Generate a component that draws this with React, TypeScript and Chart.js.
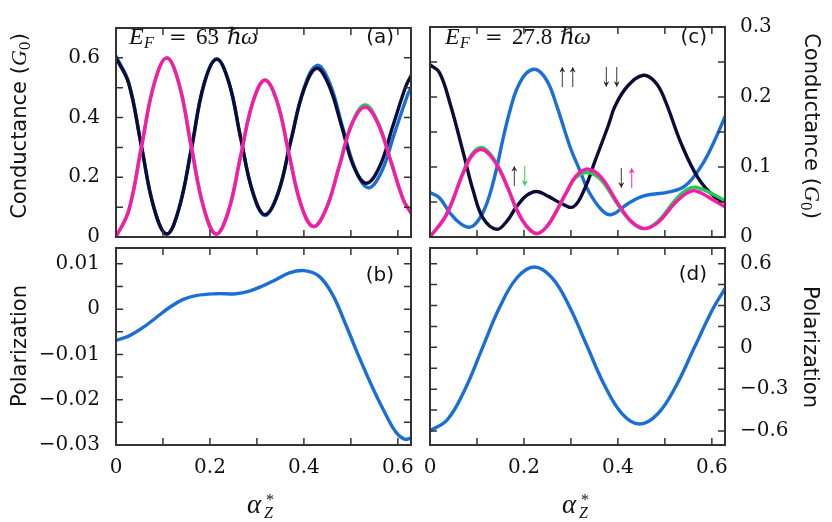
import React, { useEffect, useRef } from 'react';
import { Chart, registerables } from 'chart.js';

Chart.register(...registerables);

// ---------------- axes ----------------
const X_MIN = 0;
const X_MAX = 0.628;
const xTickLabels = [0, 0.2, 0.4, 0.6];
const xTickMarks = [0.1, 0.2, 0.3, 0.4, 0.5, 0.6];

const aYLabels = [0, 0.2, 0.4, 0.6];
const aYMarks = [0.1, 0.2, 0.3, 0.4, 0.5, 0.6];
const cYLabels = [0, 0.1, 0.2, 0.3];
const cYMarks = [0.05, 0.1, 0.15, 0.2, 0.25];
const bYLabels = [-0.03, -0.02, -0.01, 0, 0.01];
const bYMarks = [-0.025, -0.02, -0.015, -0.01, -0.005, 0, 0.005, 0.01];
const dYLabels = [-0.6, -0.3, 0, 0.3, 0.6];
const dYMarks = [-0.6, -0.45, -0.3, -0.15, 0, 0.15, 0.3, 0.45, 0.6];

// ---------------- (a) E_F = 63 ħω, conductance ----------------
const aPinkX = [0, 0.027, 0.054, 0.081, 0.108, 0.134, 0.160, 0.187, 0.213, 0.239, 0.265, 0.291, 0.317, 0.343, 0.368, 0.394, 0.420, 0.447, 0.475, 0.502, 0.530, 0.557, 0.585, 0.612, 0.628];
const aPinkY = [0.0, 0.088, 0.300, 0.512, 0.600, 0.514, 0.305, 0.096, 0.010, 0.085, 0.268, 0.450, 0.525, 0.453, 0.280, 0.107, 0.035, 0.093, 0.235, 0.377, 0.435, 0.382, 0.253, 0.123, 0.081];
const aGreenY = [0.0, 0.088, 0.300, 0.512, 0.600, 0.514, 0.305, 0.096, 0.010, 0.085, 0.268, 0.450, 0.526, 0.453, 0.280, 0.107, 0.035, 0.093, 0.236, 0.380, 0.442, 0.387, 0.256, 0.124, 0.082];
const aDarkX = [0, 0.027, 0.054, 0.081, 0.108, 0.134, 0.161, 0.187, 0.214, 0.240, 0.265, 0.291, 0.317, 0.345, 0.372, 0.400, 0.427, 0.453, 0.480, 0.506, 0.533, 0.561, 0.589, 0.617, 0.628];
const aDarkY = [0.600, 0.514, 0.305, 0.096, 0.010, 0.095, 0.300, 0.510, 0.595, 0.519, 0.335, 0.151, 0.075, 0.147, 0.320, 0.493, 0.565, 0.509, 0.373, 0.236, 0.180, 0.235, 0.370, 0.505, 0.540];
const aBlueX = [0, 0.027, 0.054, 0.081, 0.108, 0.134, 0.161, 0.187, 0.214, 0.240, 0.265, 0.291, 0.317, 0.345, 0.372, 0.400, 0.428, 0.455, 0.482, 0.510, 0.537, 0.565, 0.593, 0.621, 0.628];
const aBlueY = [0.605, 0.518, 0.305, 0.096, 0.010, 0.095, 0.300, 0.510, 0.597, 0.520, 0.335, 0.151, 0.072, 0.146, 0.322, 0.498, 0.575, 0.515, 0.370, 0.225, 0.165, 0.218, 0.348, 0.477, 0.500];

// ---------------- (c) E_F = 27.8 ħω, conductance ----------------
const cDarkX = [0, 0.02, 0.043, 0.071, 0.092, 0.113, 0.142, 0.163, 0.184, 0.205, 0.227, 0.252, 0.277, 0.305, 0.33, 0.351, 0.38, 0.394, 0.42, 0.454, 0.48, 0.5, 0.535, 0.571, 0.606, 0.628];
const cDarkY = [0.246, 0.235, 0.19, 0.12, 0.066, 0.027, 0.011, 0.022, 0.043, 0.059, 0.065, 0.058, 0.049, 0.043, 0.07, 0.108, 0.16, 0.187, 0.215, 0.231, 0.221, 0.196, 0.133, 0.084, 0.057, 0.05];
const cBlueX = [0, 0.02, 0.043, 0.065, 0.085, 0.103, 0.121, 0.139, 0.156, 0.17, 0.184, 0.205, 0.227, 0.25, 0.27, 0.298, 0.319, 0.337, 0.365, 0.386, 0.422, 0.457, 0.507, 0.543, 0.578, 0.606, 0.628];
const cBlueY = [0.0635, 0.056, 0.034, 0.019, 0.014, 0.024, 0.048, 0.09, 0.142, 0.18, 0.21, 0.234, 0.239, 0.222, 0.187, 0.129, 0.095, 0.066, 0.039, 0.032, 0.048, 0.059, 0.064, 0.073, 0.102, 0.138, 0.172];
const cPinkX = [0, 0.035, 0.071, 0.09, 0.11, 0.13, 0.149, 0.167, 0.184, 0.205, 0.228, 0.25, 0.27, 0.292, 0.312, 0.337, 0.365, 0.4, 0.429, 0.456, 0.486, 0.521, 0.545, 0.565, 0.6, 0.628];
const cPinkY = [0, 0.032, 0.092, 0.117, 0.125, 0.115, 0.095, 0.068, 0.04, 0.016, 0.005, 0.016, 0.038, 0.066, 0.088, 0.097, 0.085, 0.048, 0.022, 0.012, 0.021, 0.048, 0.062, 0.066, 0.054, 0.043];
const cGreenY = [0, 0.032, 0.093, 0.119, 0.128, 0.117, 0.096, 0.068, 0.04, 0.016, 0.005, 0.016, 0.038, 0.065, 0.086, 0.092, 0.081, 0.046, 0.021, 0.012, 0.023, 0.052, 0.067, 0.071, 0.062, 0.052];

// ---------------- (b) polarization, E_F = 63 ----------------
const bPolX = [0, 0.028, 0.057, 0.085, 0.113, 0.142, 0.17, 0.213, 0.255, 0.284, 0.312, 0.34, 0.369, 0.4, 0.432, 0.461, 0.489, 0.518, 0.546, 0.574, 0.596, 0.614, 0.628];
const bPolY = [-0.0069, -0.0059, -0.0041, -0.0019, 0.0003, 0.0021, 0.003, 0.0034, 0.0034, 0.004, 0.0051, 0.0065, 0.008, 0.0085, 0.0073, 0.0032, -0.0034, -0.0107, -0.0173, -0.0232, -0.0272, -0.0287, -0.0285];

// ---------------- (d) polarization, E_F = 27.8 ----------------
const dPolX = [0, 0.0369, 0.0739, 0.1108, 0.1477, 0.1847, 0.2216, 0.259, 0.2964, 0.3338, 0.3712, 0.4086, 0.446, 0.485, 0.524, 0.563, 0.602, 0.628];
const dPolY = [-0.598, -0.519, -0.305, -0.011, 0.283, 0.497, 0.576, 0.501, 0.295, 0.013, -0.27, -0.475, -0.55, -0.476, -0.275, 0.0, 0.275, 0.42];

// ---------------- styles ----------------
const PINK = '#ff17ad';
const GREEN = '#22cc50';
const DARK = '#0c0c38';
const BLUE = '#1a6fd6';
const FRAME = '#333333';
const TEXT = '#111111';
const W = 832;
const H = 522;
const TICK = 7;
const Y_AXIS_W = 100;
const X_AXIS_H = 50;

const SANS = '"DejaVu Sans"';
const SERIF = '"DejaVu Serif"';
const TSERIF = '"Liberation Serif", "DejaVu Serif"';

type Run = { t: string; f: string; c?: string; at?: number; dy?: number };
type TextItem = { x: number; y: number; runs: Run[]; align?: 'left' | 'center' | 'right'; rot?: number; sx?: number };
type Series = { xs: number[]; ys: number[]; color: string };
type PanelSpec = {
  id: string;
  area: { L: number; T: number; R: number; B: number };
  yMin: number;
  yMax: number;
  yLabels: number[];
  yMarks: number[];
  ySide: 'left' | 'right';
  showX: boolean;
  series: Series[];
  texts: TextItem[];
};

const fmt = (v: number) => {
  const r = Math.round(v * 1000) / 1000;
  return (r < 0 ? '\u2212' : '') + String(Math.abs(r));
};

const condLabel = (x: number, y: number, rot: number): TextItem => ({
  x, y, rot, align: 'center',
  runs: [
    { t: 'Conductance (', f: `21px ${SANS}` },
    { t: 'G', f: `italic 22px ${TSERIF}` },
    { t: '0', f: `14px ${SERIF}`, dy: 4 },
    { t: ')', f: `21px ${SANS}` },
  ],
});
const polLabel = (x: number, y: number, rot: number): TextItem => ({
  x, y, rot, align: 'center', runs: [{ t: 'Polarization', f: `21px ${SANS}` }],
});
const panelTag = (x: number, y: number, t: string): TextItem => ({
  x, y, align: 'right', runs: [{ t, f: `20px ${SANS}` }],
});
const alphaLabel = (x: number, y: number): TextItem => ({
  x, y, runs: [
    { t: '\u03b1', f: `italic 27px ${TSERIF}`, at: 0 },
    { t: '*', f: `16px ${TSERIF}`, at: 19, dy: -8 },
    { t: 'Z', f: `italic 16px ${TSERIF}`, at: 17, dy: 5 },
  ],
});
const arrowFont = `34px ${TSERIF}`;
const arrows = (x: number, y: number, c1: string, c2: string, t: string): TextItem => ({
  x, y, sx: 0.62, runs: [{ t: t[0], f: arrowFont, c: c1 }, { t: t[1], f: arrowFont, c: c2 }],
});
const efLabel = (x: number, value: string, gap: number): TextItem => ({
  x, y: 44, runs: [
    { t: 'E', f: `italic 24px ${TSERIF}`, at: 0 },
    { t: 'F', f: `italic 16px ${TSERIF}`, at: 15, dy: 4 },
    { t: '=', f: `21px ${SERIF}`, at: 40 },
    { t: value, f: `23px ${TSERIF}`, at: 67 },
    { t: '\u210f', f: `italic 23px ${SERIF}`, at: gap },
    { t: '\u03c9', f: `italic 24px ${TSERIF}`, at: gap + 14 },
  ],
});

const PANELS: PanelSpec[] = [
  {
    id: 'a', area: { L: 116, T: 15, R: 411, B: 237 }, yMin: 0, yMax: 0.7,
    yLabels: aYLabels, yMarks: aYMarks, ySide: 'left', showX: false,
    series: [
      { xs: aPinkX, ys: aPinkY, color: PINK },
      { xs: aPinkX, ys: aGreenY, color: GREEN },
      { xs: aDarkX, ys: aDarkY, color: DARK },
      { xs: aBlueX, ys: aBlueY, color: BLUE },
    ],
    texts: [
      condLabel(26, 126, -Math.PI / 2),
      panelTag(394, 43, '(a)'),
      efLabel(129, '63', 98),
    ],
  },
  {
    id: 'c', area: { L: 430, T: 15, R: 725, B: 237 }, yMin: 0, yMax: 0.3,
    yLabels: cYLabels, yMarks: cYMarks, ySide: 'right', showX: false,
    series: [
      { xs: cPinkX, ys: cPinkY, color: PINK },
      { xs: cPinkX, ys: cGreenY, color: GREEN },
      { xs: cDarkX, ys: cDarkY, color: DARK },
      { xs: cBlueX, ys: cBlueY, color: BLUE },
    ],
    texts: [
      condLabel(805, 126, Math.PI / 2),
      panelTag(707, 43, '(c)'),
      efLabel(445, '27.8', 115),
      arrows(557, 86, '#222', '#222', '\u2191\u2191'),
      arrows(601, 86, '#222', '#222', '\u2193\u2193'),
      arrows(509, 185, '#222', GREEN, '\u2191\u2193'),
      arrows(616, 187, '#222', PINK, '\u2193\u2191'),
    ],
  },
  {
    id: 'b', area: { L: 116, T: 248, R: 411, B: 445 }, yMin: -0.03, yMax: 0.0135,
    yLabels: bYLabels, yMarks: bYMarks, ySide: 'left', showX: true,
    series: [{ xs: bPolX, ys: bPolY, color: BLUE }],
    texts: [
      polLabel(26, 346, -Math.PI / 2),
      panelTag(394, 281, '(b)'),
      alphaLabel(247, 513),
    ],
  },
  {
    id: 'd', area: { L: 430, T: 248, R: 725, B: 445 }, yMin: -0.7, yMax: 0.712,
    yLabels: dYLabels, yMarks: dYMarks, ySide: 'right', showX: true,
    series: [{ xs: dPolX, ys: dPolY, color: BLUE }],
    texts: [
      polLabel(804, 347, Math.PI / 2),
      panelTag(707, 280, '(d)'),
      alphaLabel(562, 513),
    ],
  },
];

function drawText(ctx: CanvasRenderingContext2D, item: TextItem) {
  ctx.save();
  ctx.translate(item.x, item.y);
  if (item.rot) ctx.rotate(item.rot);
  if (item.sx) ctx.scale(item.sx, 1);
  ctx.textBaseline = 'alphabetic';
  ctx.textAlign = 'left';
  const widths = item.runs.map((r) => {
    ctx.font = r.f;
    return ctx.measureText(r.t).width;
  });
  const total = widths.reduce((s, w) => s + w, 0);
  let cur = item.align === 'center' ? -total / 2 : item.align === 'right' ? -total : 0;
  item.runs.forEach((r, i) => {
    if (r.at !== undefined) cur = r.at;
    ctx.font = r.f;
    ctx.fillStyle = r.c || TEXT;
    ctx.fillText(r.t, cur, r.dy || 0);
    cur += widths[i];
  });
  ctx.restore();
}

function decorPlugin(p: PanelSpec) {
  return {
    id: 'decor_' + p.id,
    afterDatasetsDraw(chart: any) {
      const ctx: CanvasRenderingContext2D = chart.ctx;
      const { left, top, right, bottom } = chart.chartArea;
      const xs = chart.scales.x;
      const ys = chart.scales.y;
      ctx.save();
      ctx.strokeStyle = FRAME;
      ctx.lineWidth = 1.5;
      ctx.beginPath();
      for (const v of xTickMarks) {
        const px = xs.getPixelForValue(v);
        ctx.moveTo(px, bottom);
        ctx.lineTo(px, bottom - TICK);
        ctx.moveTo(px, top);
        ctx.lineTo(px, top + TICK);
      }
      for (const v of p.yMarks) {
        const py = ys.getPixelForValue(v);
        ctx.moveTo(left, py);
        ctx.lineTo(left + TICK, py);
        ctx.moveTo(right, py);
        ctx.lineTo(right - TICK, py);
      }
      ctx.stroke();
      ctx.lineWidth = 2;
      ctx.strokeRect(left, top, right - left, bottom - top);
      ctx.restore();
      for (const t of p.texts) drawText(ctx, t);
    },
  };
}

function buildConfig(p: PanelSpec): any {
  const leftAxis = p.ySide === 'left';
  const xH = p.showX ? X_AXIS_H : 0;
  const tickFont = { family: SERIF, size: 20 };
  return {
    type: 'line',
    data: {
      datasets: p.series.map((s) => ({
        data: s.xs.map((x, i) => ({ x, y: s.ys[i] })),
        borderColor: s.color,
        borderWidth: 3.4,
        pointRadius: 0,
        pointHoverRadius: 0,
        fill: false,
        tension: 0.4,
        borderCapStyle: 'round',
        borderJoinStyle: 'round',
      })),
    },
    options: {
      responsive: false,
      animation: false,
      devicePixelRatio: 1,
      events: [],
      layout: {
        padding: {
          left: leftAxis ? p.area.L - Y_AXIS_W : p.area.L,
          right: leftAxis ? W - p.area.R : W - p.area.R - Y_AXIS_W,
          top: p.area.T,
          bottom: H - p.area.B - xH,
        },
      },
      plugins: { legend: { display: false }, tooltip: { enabled: false }, title: { display: false } },
      scales: {
        x: {
          type: 'linear',
          position: 'bottom',
          min: X_MIN,
          max: X_MAX,
          grid: { display: false, drawTicks: false },
          border: { display: false },
          ticks: {
            display: p.showX,
            padding: 11,
            autoSkip: false,
            maxRotation: 0,
            color: TEXT,
            font: tickFont,
            callback: (v: number) => fmt(v),
          },
          afterBuildTicks: (s: any) => {
            s.ticks = xTickLabels.map((v) => ({ value: v }));
          },
          afterFit: (s: any) => {
            s.height = xH;
          },
        },
        y: {
          type: 'linear',
          position: p.ySide,
          min: p.yMin,
          max: p.yMax,
          grid: { display: false, drawTicks: false },
          border: { display: false },
          ticks: {
            padding: leftAxis ? 16 : 15,
            autoSkip: false,
            color: TEXT,
            font: tickFont,
            callback: (v: number) => fmt(v),
          },
          afterBuildTicks: (s: any) => {
            s.ticks = p.yLabels.map((v) => ({ value: v }));
          },
          afterFit: (s: any) => {
            s.width = Y_AXIS_W;
          },
        },
      },
    },
    plugins: [decorPlugin(p)],
  };
}

function Panel({ spec }: { spec: PanelSpec }) {
  const ref = useRef<HTMLCanvasElement>(null);
  useEffect(() => {
    const chart = new Chart(ref.current as HTMLCanvasElement, buildConfig(spec));
    return () => chart.destroy();
  }, [spec]);
  return (
    <canvas
      ref={ref}
      width={W}
      height={H}
      style={{ position: 'absolute', left: 0, top: 0, width: W, height: H }}
    />
  );
}

export default function App() {
  return (
    <div style={{ position: 'fixed', left: 0, top: 0, width: W, height: H, background: '#ffffff' }}>
      {PANELS.map((p) => (
        <Panel key={p.id} spec={p} />
      ))}
    </div>
  );
}
